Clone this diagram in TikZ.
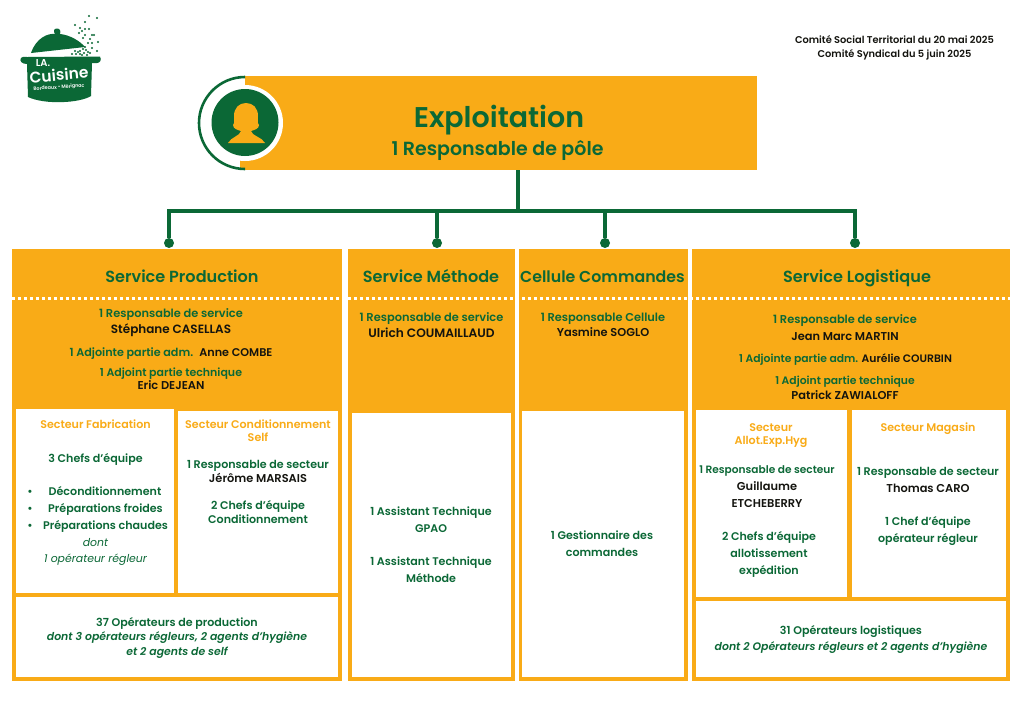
\documentclass[tikz,border=0pt]{standalone}
\usepackage{fontspec}
\setmainfont{Poppins}[BoldFont={Poppins SemiBold},BoldItalicFont={Poppins SemiBold Italic},ItalicFont={Poppins Italic}]
\definecolor{org}{HTML}{F9AB17}
\definecolor{grn}{HTML}{0B6836}
\definecolor{ink}{HTML}{14140F}
\newcommand{\fs}[1]{\fontsize{#1}{#1}\selectfont}
\newcommand{\panel}[6]{% name x1 y1 x2 y2 color
  \pgfmathsetmacro{\pw}{#4-#2}\pgfmathsetmacro{\ph}{#5-#3}
  \node[boxbase,fill=#6,minimum width=\pw pt,minimum height=\ph pt] (#1) at (#2,#3) {};}
\tikzset{
  x=1pt,y=-1pt,
  boxbase/.style={anchor=north west,inner sep=0pt,outer sep=0pt,draw=none},
  ln/.style={inner sep=0pt,font=\fs{11.1}\bfseries,text=grn,text height=10.2pt,text depth=2pt},
  hd/.style={ln,font=\fs{11.4}\bfseries},
  adj/.style={ln,font=\fs{10.8}\bfseries},
  pname/.style={ln,font=\fs{11.4}\bfseries,text=ink},
  bi/.style={ln,font=\fs{10.9}\bfseries\itshape},
  svc/.style={inner sep=0pt,font=\fs{16.1}\bfseries,text=grn,text height=13pt,text depth=3pt},
  sect/.style={ln,font=\fs{11.1}\bfseries,text=org},
  itl/.style={ln,font=\fs{10.9}\itshape},
  meta/.style={inner sep=0pt,font=\fs{9.85}\bfseries,text=ink,text height=7.5pt,text depth=1.5pt},
  bus/.style={draw=grn,line width=4pt},
  dotend/.style={circle,fill=grn,inner sep=0pt,minimum size=10pt},
  dotline/.style={draw=white,line width=3pt,dash pattern=on 3pt off 3pt},
}
\begin{document}
\begin{tikzpicture}
\useasboundingbox (0,0) rectangle (1024,724);
\fill[white] (0,0) rectangle (1024,724);
% ---- header
\node[meta] (meta1) at (894.5,40) {Comité Social Territorial du 20 mai 2025};
\node[meta] (meta2) at (894.5,54) {Comité Syndical du 5 juin 2025};
% ---- logo
\begin{scope}
\fill[grn] (31,53) .. controls (36,38) and (48,33) .. (55,34) .. controls (53,31) and (54,28.5) .. (57,28.5) .. controls (60,28.5) and (61,31) .. (60,34) .. controls (70,35) and (80,41) .. (85,47) -- cycle;
\fill[grn] (27,57) -- (100,56.5) .. controls (102,60) and (100,63) .. (97,63) -- (92,63) -- (91,96)
  .. controls (80,103) and (45,105) .. (28,97) -- (27,64) .. controls (22,64) and (19,61) .. (21,58) .. controls (22,56.5) and (24,56.5) .. (27,57) -- cycle;
\foreach \a/\b in {89/16,97/18,75/25,85/22,80/28,85/29,89/29,94/35,79/33,85/35,90/39,83/38,88/43,92/43,98/42,92/48,85/47,88/52,80/51,75/51,82/55,76/54,72/54,97/51,90/53,86/50,83/49,78/52,84/53,80/54,87/55,92/35,82/31}
  \fill[grn] (\a,\b) circle[radius=1.05pt];
\node[inner sep=0pt,font=\fs{10}\bfseries,text=white,text height=7pt,text depth=0pt] (logoa) at (43,63) {LA.};
\node[inner sep=0pt,font=\fs{15.5}\bfseries,text=white,rotate=5,text height=11pt,text depth=0pt] (logob) at (59,75) {Cuisine};
\node[inner sep=0pt,font=\fs{4.8}\bfseries,text=white,rotate=4,text height=3.5pt,text depth=0pt] (logoc) at (59,87) {Bordeaux • Mérignac};
\end{scope}
% ---- head box
\panel{head}{245}{76}{757}{170}{org}
\fill[org] (240,88) rectangle (246,170);
\fill[white] (245,123) circle[radius=38pt];
\begin{scope}
\clip (190,70) rectangle (245,176);
\draw[grn,line width=2.6pt] (245,123) circle[radius=46pt];
\end{scope}
\node[circle,fill=grn,inner sep=0pt,minimum size=67pt] (avatar) at (245,122.5) {};
\fill[org] (228,143) .. controls (231,137) and (240,136) .. (241,131) .. controls (238,130) and (233,129) .. (233,125) .. controls (235,123) and (234,119) .. (234,116) .. controls (234,108) and (239,103) .. (246,103) .. controls (253,103) and (258,108) .. (258,116) .. controls (258,119) and (257,123) .. (259,125) .. controls (259,129) and (254,130) .. (251,131) .. controls (252,136) and (262,137) .. (265,143) -- cycle;
\node[inner sep=0pt,font=\fs{28.5}\bfseries,text=grn,text height=21pt,text depth=6pt] (title) at (499,120) {Exploitation};
\node[inner sep=0pt,font=\fs{19}\bfseries,text=grn,text height=14pt,text depth=0pt] (subtitle) at (497.5,148) {1 Responsable de pôle};
% ---- service bodies
\panel{prod}{12}{249}{342}{681}{org}
\panel{meth}{348}{249}{515}{681}{org}
\panel{comm}{519}{249}{688}{681}{org}
\panel{logi}{692}{249}{1010}{681}{org}
\panel{fab}{16}{409}{174}{593}{white}
\panel{cond}{178}{411}{338}{593}{white}
\panel{opprod}{16}{597}{338}{677}{white}
\panel{methw}{352}{413}{511}{677}{white}
\panel{commw}{522}{411}{684}{677}{white}
\panel{allot}{696}{410}{847}{597}{white}
\panel{maga}{852}{410}{1006}{597}{white}
\panel{oplog}{696}{601}{1006}{677}{white}
% ---- connectors
\coordinate (tr) at (518,211);
\coordinate (j1) at (169,211);
\coordinate (j2) at (437,211);
\coordinate (j3) at (605,211);
\coordinate (j4) at (855,211);
\node[dotend] (d1) at (169,243) {};
\node[dotend] (d2) at (437,243) {};
\node[dotend] (d3) at (605,243) {};
\node[dotend] (d4) at (855,243) {};
\draw[bus] (head.south -| tr) -- (tr);
\draw[bus,line cap=rect] (j1) -- (j4);
\draw[bus] (j1) -- (d1);
\draw[bus] (j2) -- (d2);
\draw[bus] (j3) -- (d3);
\draw[bus] (j4) -- (d4);
% ---- dotted separator
\coordinate (sepa) at (12,298);
\coordinate (sepb) at (1010,298);
\draw[dotline] (sepa) -- (sepb);
% ---- service titles
\node[svc] (t1) at (182,277) {Service Production};
\node[svc] (t2) at (431,277) {Service Méthode};
\node[svc,font=\fs{15.8}\bfseries] (t3) at (602.5,277) {Cellule Commandes};
\node[svc] (t4) at (857,277) {Service Logistique};
% ---- production
\node[hd] (p1) at (171,313) {1 Responsable de service};
\node[pname,font=\fs{12}\bfseries] (p2) at (171,329) {Stéphane CASELLAS};
\node[adj,font=\fs{11.2}\bfseries] (p3) at (171,352) {1 Adjointe partie adm. \textcolor{ink}{\ Anne COMBE}};
\node[adj,font=\fs{11}\bfseries] (p4) at (171,372) {1 Adjoint partie technique};
\node[pname] (p5) at (171,385) {Eric DEJEAN};
\node[sect] (f1) at (95.5,424) {Secteur Fabrication};
\node[ln] (f2) at (95.5,458) {3 Chefs d’équipe};
\node[ln] (f3) at (105,491.5) {Déconditionnement};
\node[ln] (f4) at (105.5,508) {Préparations froides};
\node[ln] (f5) at (105.5,525) {Préparations chaudes};
\foreach \yy/\nn in {491.5/a,508/b,525/c} \node[ln] (bul\nn) at (30,\yy) {•};
\node[itl] (f6) at (95.5,542) {dont};
\node[itl] (f7) at (95.5,558.5) {1 opérateur régleur};
\node[sect] (c1) at (258,424) {Secteur Conditionnement};
\node[sect] (c1b) at (258,437) {Self};
\node[ln] (c2) at (258,464.5) {1 Responsable de secteur};
\node[pname] (c2b) at (258,478) {Jérôme MARSAIS};
\node[ln] (c3) at (258,505.5) {2 Chefs d’équipe};
\node[ln] (c3b) at (258,519) {Conditionnement};
\node[ln] (o1) at (177,622.5) {37 Opérateurs de production};
\node[bi] (o2) at (177,636) {dont 3 opérateurs régleurs, 2 agents d’hygiène};
\node[bi] (o3) at (177,651) {et 2 agents de self};
% ---- methode
\node[hd] (m1) at (431.5,317) {1 Responsable de service};
\node[pname,font=\fs{12.2}\bfseries] (m2) at (431.5,333) {Ulrich COUMAILLAUD};
\node[ln] (m3) at (431,511) {1 Assistant Technique};
\node[ln] (m3b) at (431,528) {GPAO};
\node[ln] (m4) at (431,561) {1 Assistant Technique};
\node[ln] (m4b) at (431,578) {Méthode};
% ---- commandes
\node[hd] (cc1) at (603,317) {1 Responsable Cellule};
\node[pname] (cc2) at (603,332) {Yasmine SOGLO};
\node[ln] (cc3) at (602,535.5) {1 Gestionnaire des};
\node[ln] (cc3b) at (602,552.5) {commandes};
% ---- logistique
\node[hd] (l1) at (845,319) {1 Responsable de service};
\node[pname] (l2) at (845,336) {Jean Marc MARTIN};
\node[adj] (l3) at (845.5,358.5) {1 Adjointe partie adm. \textcolor{ink}{Aurélie COURBIN}};
\node[adj] (l4) at (845,380) {1 Adjoint partie technique};
\node[pname] (l5) at (845,395) {Patrick ZAWIALOFF};
\node[sect] (a1) at (771,427) {Secteur};
\node[sect] (a1b) at (771,440) {Allot.Exp.Hyg};
\node[ln,font=\fs{10.6}\bfseries] (a2) at (767,469.5) {1 Responsable de secteur};
\node[pname] (a2b) at (767,486) {Guillaume};
\node[pname] (a2c) at (767,503) {ETCHEBERRY};
\node[ln] (a3) at (769,536.5) {2 Chefs d’équipe};
\node[ln] (a3b) at (769,553.5) {allotissement};
\node[ln] (a3c) at (769,570.5) {expédition};
\node[sect] (g1) at (928,427) {Secteur Magasin};
\node[ln] (g2) at (928,471) {1 Responsable de secteur};
\node[pname] (g2b) at (928,488) {Thomas CARO};
\node[ln] (g3) at (928,521.5) {1 Chef d’équipe};
\node[ln] (g3b) at (928,538.5) {opérateur régleur};
\node[ln] (q1) at (851,630) {31 Opérateurs logistiques};
\node[bi] (q2) at (851,646) {dont 2 Opérateurs régleurs et 2 agents d’hygiène};
\end{tikzpicture}
\end{document}
